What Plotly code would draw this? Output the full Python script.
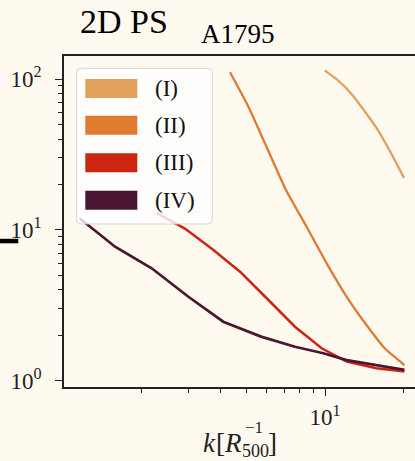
import plotly.graph_objects as go

# ---- data ----
series_names = ["(I)", "(II)", "(III)", "(IV)"]
series_colors = ["#e3a15e", "#e07a30", "#cc2612", "#4b1631"]

k_I = [9.97, 11.21, 12.60, 14.17, 15.94, 17.91, 20.02]
P_I = [114.2, 98.0, 79.9, 61.1, 45.7, 32.0, 22.1]

k_II = [4.34, 5.10, 5.90, 7.04, 8.64, 10.15, 12.1, 14.4, 16.9, 20.1]
P_II = [110.8, 65.5, 37.5, 18.9, 9.98, 6.0, 3.60, 2.34, 1.64, 1.27]

k_III = [2.28, 2.92, 3.75, 4.74, 5.99, 7.68, 9.71, 12.1, 15.7, 20.1]
P_III = [12.9, 10.2, 7.35, 5.28, 3.52, 2.28, 1.64, 1.34, 1.21, 1.15]

k_IV = [1.16, 1.58, 2.18, 3.01, 4.09, 5.70, 7.68, 9.85, 12.1, 20.1]
P_IV = [11.9, 7.73, 5.56, 3.60, 2.46, 1.96, 1.68, 1.52, 1.37, 1.18]

x_major = [10]
x_major_text = ["10<sup>1</sup>"]
x_minor = [2, 3, 4, 5, 6, 7, 8, 9, 20]
y_major = [1, 10, 100]
y_major_text = ["10<sup>0</sup>", "10<sup>1</sup>", "10<sup>2</sup>"]
y_minor = [2, 3, 4, 5, 6, 7, 8, 9, 20, 30, 40, 50, 60, 70, 80, 90]

title_left = "2D PS"
title_right = "A1795"

# ---- layout geometry (pixels) ----
W, H = 415, 461
L, R, T, B = 64, 415, 56, 387
FONT = "Liberation Serif"
BG = "#FFFAF0"
AX = "#222222"


def px(x):
    return (x - L) / (R - L)


def py(y):
    return (B - y) / (B - T)


fig = go.Figure()
data = [(k_I, P_I), (k_II, P_II), (k_III, P_III), (k_IV, P_IV)]
widths = [2.3, 2.3, 2.5, 2.7]
shapes_ = ["spline", "spline", "linear", "linear"]
for (kx, pv), name, col, w, sh in zip(data, series_names, series_colors, widths, shapes_):
    fig.add_trace(go.Scatter(x=kx, y=pv, mode="lines", name=name,
                             line=dict(color=col, width=w, shape=sh, smoothing=0.5),
                             showlegend=False))

shapes = []


def rrect_path(x0, y0, x1, y1, r):
    pts = []
    pts.append(f"M {px(x0 + r)},{py(y0)}")
    pts.append(f"L {px(x1 - r)},{py(y0)}")
    pts.append(f"Q {px(x1)},{py(y0)} {px(x1)},{py(y0 + r)}")
    pts.append(f"L {px(x1)},{py(y1 - r)}")
    pts.append(f"Q {px(x1)},{py(y1)} {px(x1 - r)},{py(y1)}")
    pts.append(f"L {px(x0 + r)},{py(y1)}")
    pts.append(f"Q {px(x0)},{py(y1)} {px(x0)},{py(y1 - r)}")
    pts.append(f"L {px(x0)},{py(y0 + r)}")
    pts.append(f"Q {px(x0)},{py(y0)} {px(x0 + r)},{py(y0)} Z")
    return " ".join(pts)


# legend frame
shapes.append(dict(type="path", xref="paper", yref="paper",
                   path=rrect_path(76.7, 68.3, 212.3, 224, 4),
                   fillcolor="rgba(255,255,255,0.8)",
                   line=dict(color="rgba(204,204,204,0.8)", width=1), layer="above"))

annotations = []
row_top = [79, 115.7, 153.3, 190.7]
for i, (name, col) in enumerate(zip(series_names, series_colors)):
    y0 = row_top[i]
    y1 = y0 + 19
    shapes.append(dict(type="rect", xref="paper", yref="paper",
                       x0=px(85.3), x1=px(137.3), y0=py(y1), y1=py(y0),
                       fillcolor=col, line=dict(width=0), layer="above"))
    annotations.append(dict(text=name, xref="paper", yref="paper",
                            x=px(153), y=py((y0 + y1) / 2), xanchor="left", yanchor="middle",
                            showarrow=False, font=dict(family=FONT, size=23, color="#111")))

# cropped remnant bar at left edge
shapes.append(dict(type="rect", xref="paper", yref="paper",
                   x0=px(0), x1=px(18.3), y0=py(243.3), y1=py(238.8),
                   fillcolor="#000000", line=dict(width=0), layer="above"))

# titles
annotations.append(dict(text=title_left, xref="paper", yref="paper", x=px(78), y=py(22),
                        xanchor="left", yanchor="middle", showarrow=False,
                        font=dict(family=FONT, size=34, color="#000")))
annotations.append(dict(text=title_right, xref="paper", yref="paper", x=px(199), y=py(34),
                        xanchor="left", yanchor="middle", showarrow=False,
                        font=dict(family=FONT, size=27, color="#000")))


def label_piece(text, x, y, size):
    return dict(text=text, xref="paper", yref="paper", x=px(x), y=py(y),
                xanchor="left", yanchor="middle", showarrow=False,
                font=dict(family=FONT, size=size, color="#222"))


# x axis label: k[R_500^-1]
annotations.append(label_piece("<i>k</i>", 201, 443, 27))
annotations.append(label_piece("[", 214, 443, 27))
annotations.append(label_piece("<i>R</i>", 222, 443, 27))
annotations.append(label_piece("−1", 243, 427, 17))
annotations.append(label_piece("500", 240, 451, 18))
annotations.append(label_piece("]", 266, 443, 27))

fig.update_layout(
    width=W, height=H,
    margin=dict(l=L, r=W - R, t=T, b=H - B, pad=0, autoexpand=False),
    paper_bgcolor=BG, plot_bgcolor=BG,
    showlegend=False,
    font=dict(family=FONT, size=23, color="#222"),
    shapes=shapes, annotations=annotations,
    xaxis=dict(type="log", range=[0.0038, 1.3435], showgrid=False, zeroline=False,
               showline=True, linecolor=AX, linewidth=1.6, mirror=True,
               ticks="outside", ticklen=7, tickwidth=1.3, tickcolor=AX,
               tickmode="array", tickvals=x_major, ticktext=x_major_text,
               ticklabelstandoff=2, automargin=False,
               minor=dict(ticks="outside", ticklen=4, tickwidth=1.1, tickcolor=AX,
                          tickmode="array", tickvals=x_minor, showgrid=False)),
    yaxis=dict(type="log", range=[-0.0418, 2.1525], showgrid=False, zeroline=False,
               showline=True, linecolor=AX, linewidth=1.6, mirror=False,
               ticks="outside", ticklen=7, tickwidth=1.3, tickcolor=AX,
               tickmode="array", tickvals=y_major, ticktext=y_major_text,
               ticklabelstandoff=9, automargin=False,
               minor=dict(ticks="outside", ticklen=4, tickwidth=1.1, tickcolor=AX,
                          tickmode="array", tickvals=y_minor, showgrid=False)),
)

fig.write_html(
    "out.html",
    config={"displayModeBar": False},
    post_script="document.body.style.margin='0px';document.body.style.overflow='hidden';"
                "document.body.style.background='#FFFAF0';",
)
